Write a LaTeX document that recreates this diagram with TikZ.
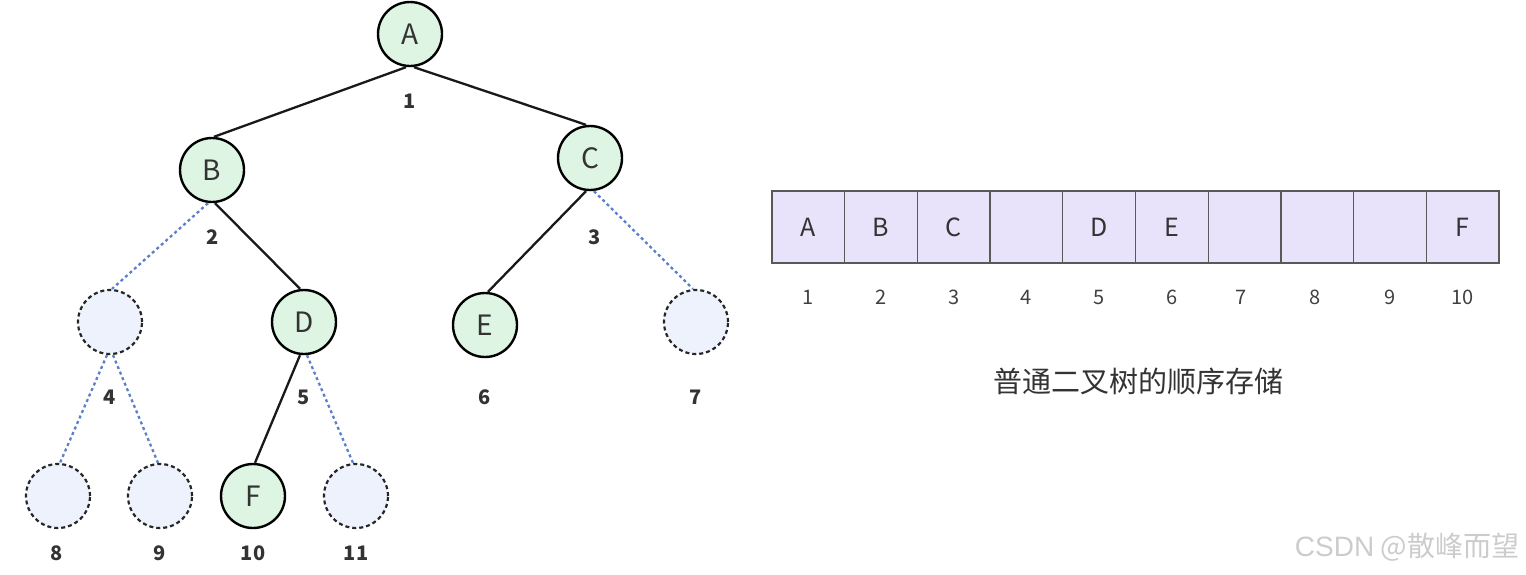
\documentclass[tikz,border=0pt]{standalone}
\usepackage{fontspec}
\setmainfont{Noto Sans CJK SC}
\newfontfamily\cjk{Noto Sans CJK SC}
\newfontfamily\wmfont{Liberation Sans}
\begin{document}
\begin{tikzpicture}[x=1pt,y=-1pt,
  tnode/.style={circle,draw=black,line width=2.4pt,fill=tgreen,minimum size=64pt,inner sep=0pt,font=\fontsize{28}{30}\selectfont,text=black!80},
  enode/.style={circle,draw=black!85,dashed,dash pattern=on 4pt off 3pt,line width=2.2pt,fill=eblue,minimum size=64pt,inner sep=0pt},
  idx/.style={font=\bfseries\fontsize{20}{22}\selectfont,text=black!80},
  sedge/.style={line width=2.3pt,black!90},
  dedge/.style={line width=2.3pt,dedgec,dash pattern=on 3pt off 3pt},
  cell/.style={draw=black!65,line width=1.3pt,fill=cellc,minimum width=72.7pt,minimum height=72pt,inner sep=0pt,font=\fontsize{25}{27}\selectfont,text=black!80},
  aidx/.style={font=\fontsize{20}{22}\selectfont,text=black!75}
]
\definecolor{tgreen}{HTML}{DDF5E2}
\definecolor{eblue}{HTML}{EEF2FC}
\definecolor{dedgec}{HTML}{5B7FC8}
\definecolor{cellc}{HTML}{E8E2FA}
\useasboundingbox (0,0) rectangle (1526,574);
% tree nodes
\node[tnode] (A) at (410,34) {A};
\node[tnode] (B) at (212,170) {B};
\node[tnode] (C) at (590,158) {C};
\node[enode] (n4) at (110,322) {};
\node[tnode] (D) at (304,322) {D};
\node[tnode] (E) at (485,325) {E};
\node[enode] (n7) at (696,322) {};
\node[enode] (n8) at (58,496) {};
\node[enode] (n9) at (160,496) {};
\node[tnode] (F) at (253,496) {F};
\node[enode] (n11) at (356,496) {};
% index labels
\node[idx] (l1) at (410,101) {1};
\node[idx] (l2) at (213,237) {2};
\node[idx] (l3) at (595,237) {3};
\node[idx] (l4) at (110,397) {4};
\node[idx] (l5) at (304,397) {5};
\node[idx] (l6) at (485,397) {6};
\node[idx] (l7) at (696,397) {7};
\node[idx] (l8) at (57,553) {8};
\node[idx] (l9) at (160,553) {9};
\node[idx] (l10) at (253,553) {10};
\node[idx] (l11) at (356,553) {11};
% edges
\draw[sedge] ([xshift=-4pt]A.south) -- ([xshift=2pt]B.north);
\draw[sedge] ([xshift=4pt]A.south) -- ([xshift=-4pt]C.north);
\draw[dedge] ([xshift=-4pt]B.south) -- ([xshift=2pt]n4.north);
\draw[sedge] ([xshift=3pt]B.south) -- ([xshift=-4pt]D.north);
\draw[sedge] ([xshift=-4pt]C.south) -- ([xshift=3pt]E.north);
\draw[dedge] ([xshift=4pt]C.south) -- ([xshift=-3pt]n7.north);
\draw[dedge] ([xshift=-3pt]n4.south) -- ([xshift=2pt]n8.north);
\draw[dedge] ([xshift=3pt]n4.south) -- ([xshift=-2pt]n9.north);
\draw[sedge] ([xshift=-4pt]D.south) -- ([xshift=2pt]F.north);
\draw[dedge] ([xshift=3pt]D.south) -- ([xshift=-3pt]n11.north);
% array
\foreach \i/\t in {1/A,2/B,3/C,4/,5/D,6/E,7/,8/,9/,10/F}{
  \node[cell] (c\i) at ({772+72.7*(\i-0.5)},227) {\t};
  \node[aidx] (a\i) at ({772+72.7*(\i-0.5)+(\i==7?-4:0)+(\i==8?-2:0)},297) {\i};
}
\node[font=\cjk\fontsize{29}{32}\selectfont,text=black!80] (cap) at (1138,381) {普通二叉树的顺序存储};
\node[font=\fontsize{28}{30}\selectfont,text=black!20] (wm) at (1407,547) {{\wmfont CSDN} {\cjk @散峰而望}};
\end{tikzpicture}
\end{document}
